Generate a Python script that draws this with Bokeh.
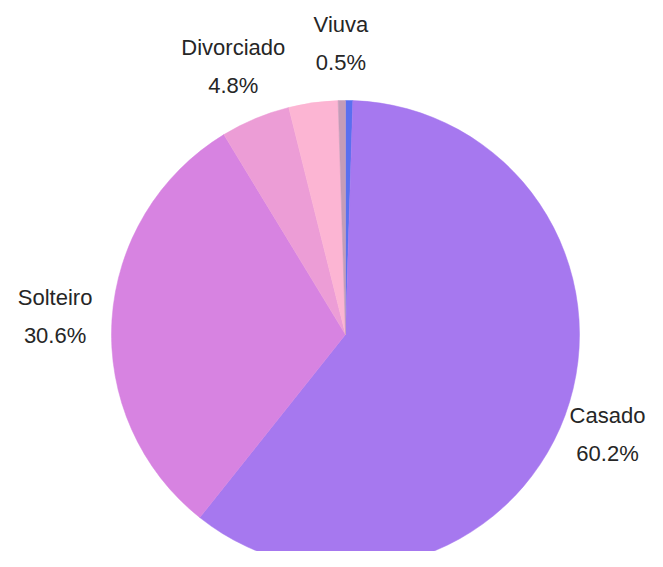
import math
from bokeh.plotting import figure
from bokeh.models import Range1d, ColumnDataSource
from bokeh.core.properties import value
from bokeh.embed import file_html
from bokeh.resources import INLINE

# Data (clockwise from 12 o'clock)
categories = ["Não informado", "Casado", "Solteiro", "Divorciado", "União estável", "Viuva"]
percents = [0.5, 60.2, 30.6, 4.8, 3.4, 0.5]
show_label = [False, True, True, True, False, True]
colors = ["#5a6ff0", "#a678ef", "#d783e1", "#ec9dd6", "#fcb5d3", "#c49cb8"]

W, H = 647, 551
TOP = 567  # data y = TOP - picture y
p = figure(width=W, height=H, output_backend="svg", toolbar_location=None,
           x_range=Range1d(0, W), y_range=Range1d(TOP - H, TOP),
           min_border=0)
p.axis.visible = False
p.grid.visible = False
p.outline_line_color = None
p.background_fill_color = "white"
p.border_fill_color = "white"

cx, cy, r = 345, TOP - 334, 234
total = sum(percents)
starts, ends, mids = [], [], []
acc = 0.0
for v in percents:
    f0 = acc / total
    acc += v
    f1 = acc / total
    starts.append(math.pi / 2 - 2 * math.pi * f0)
    ends.append(math.pi / 2 - 2 * math.pi * f1)
    mids.append(math.pi / 2 - 2 * math.pi * (f0 + f1) / 2)

src = ColumnDataSource(dict(start=starts, end=ends, color=colors))
p.wedge(x=cx, y=cy, radius=r, start_angle="start", end_angle="end",
        direction="clock", fill_color="color", line_color="color", line_width=0.5,
        source=src)

R = 291
lx, ly, names, pcts = [], [], [], []
for cat, v, m, s in zip(categories, percents, mids, show_label):
    if not s:
        continue
    x = cx + R * math.cos(m)
    x = min(x, W - 40)
    lx.append(x)
    ly.append(cy + R * math.sin(m))
    names.append(cat)
    pcts.append(f"{v:.1f}%")

lsrc = ColumnDataSource(dict(x=lx, y=ly, name=names, pct=pcts))
common = dict(x="x", y="y", source=lsrc, text_align="center", text_baseline="middle",
              text_font=value("Liberation Sans"), text_font_size="22px",
              text_color="#262626")
p.text(text="name", y_offset=-19, **common)
p.text(text="pct", y_offset=19, **common)

open("out.html", "w").write(file_html(p, INLINE))
